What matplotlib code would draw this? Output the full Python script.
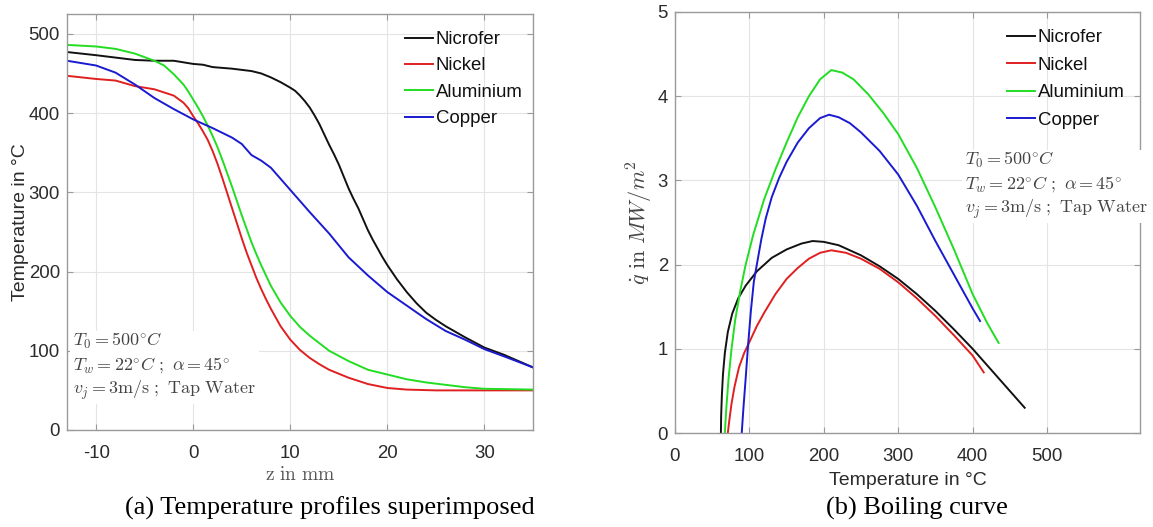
import matplotlib
matplotlib.use("Agg")
import matplotlib.pyplot as plt

plt.rcParams['mathtext.fontset'] = 'cm'

# ---------- data: (a) temperature profiles ----------
z_nicrofer = [-13, -10, -8, -6, -4, -2, 0, 1, 2, 4, 6, 7, 8, 9, 10, 10.5, 11, 11.5, 12, 12.5, 13, 13.5, 14, 14.5, 15, 15.5, 16, 16.5, 17, 17.5, 18, 18.5, 19, 19.5, 20, 21, 22, 23, 24, 25, 26, 28, 30, 32, 35]
T_nicrofer = [477, 473, 470, 467, 466, 466, 462, 461, 458, 456, 453, 450, 445, 439, 432, 428, 422, 415, 407, 397, 386, 373, 360, 348, 335, 320, 305, 292, 280, 266, 252, 240, 229, 218, 208, 190, 174, 160, 148, 139, 131, 117, 104, 95, 79]

z_nickel = [-13, -10, -8, -6, -4, -2, -1, -0.5, 0, 0.5, 1, 1.5, 2, 2.5, 3, 3.5, 4, 4.5, 5, 5.5, 6, 6.5, 7, 7.5, 8, 9, 10, 11, 12, 13, 14, 16, 18, 20, 22, 25, 35]
T_nickel = [447, 443, 441, 434, 430, 422, 413, 406, 396, 387, 377, 366, 352, 336, 318, 299, 280, 261, 242, 224, 208, 192, 178, 165, 153, 131, 114, 101, 91, 83, 76, 66, 58, 53, 51, 50, 50]

z_alu = [-13, -10, -8, -6, -4, -3, -2, -1, -0.5, 0, 0.5, 1, 1.5, 2, 2.5, 3, 3.5, 4, 4.5, 5, 5.5, 6, 6.5, 7, 7.5, 8, 9, 10, 11, 12, 14, 16, 18, 20, 22, 24, 26, 28, 30, 35]
T_alu = [486, 484, 481, 475, 466, 460, 449, 436, 427, 417, 407, 396, 384, 371, 357, 341, 324, 307, 289, 271, 254, 237, 222, 208, 195, 182, 161, 144, 130, 119, 100, 87, 76, 70, 64, 60, 57, 54, 52, 51]

z_copper = [-13, -10, -8, -6, -4, -2, 0, 2, 4, 5, 5.5, 6, 7, 8, 10, 12, 14, 16, 18, 20, 22, 24, 26, 28, 30, 32, 35]
T_copper = [466, 460, 451, 436, 419, 405, 392, 381, 369, 361, 354, 347, 340, 331, 303, 275, 248, 218, 195, 174, 157, 140, 125, 114, 102, 93, 79]

# ---------- data: (b) boiling curves ----------
Tb_nicrofer = [61.7, 62, 63, 64.5, 67, 71, 77, 85, 95, 110, 130, 150, 170, 185, 200, 220, 250, 275, 300, 325, 350, 375, 400, 425, 450, 470]
q_nicrofer = [0.0, 0.2, 0.45, 0.7, 0.95, 1.2, 1.42, 1.6, 1.75, 1.92, 2.08, 2.18, 2.25, 2.28, 2.27, 2.23, 2.11, 1.98, 1.83, 1.65, 1.45, 1.23, 1.0, 0.75, 0.5, 0.3]

Tb_nickel = [71, 73, 76, 80, 86, 93, 100, 110, 120, 135, 150, 165, 180, 195, 210, 230, 250, 275, 300, 325, 350, 375, 400, 415]
q_nickel = [0.0, 0.15, 0.35, 0.55, 0.78, 0.95, 1.08, 1.27, 1.43, 1.65, 1.83, 1.96, 2.07, 2.14, 2.17, 2.14, 2.07, 1.95, 1.79, 1.60, 1.39, 1.16, 0.92, 0.72]

Tb_alu = [67, 69, 72, 76, 81, 88, 95, 105, 120, 135, 150, 165, 180, 195, 210, 225, 240, 260, 280, 300, 325, 350, 375, 400, 420, 435]
q_alu = [0.0, 0.3, 0.65, 1.0, 1.35, 1.7, 2.0, 2.35, 2.78, 3.13, 3.45, 3.75, 4.0, 4.2, 4.31, 4.28, 4.2, 4.02, 3.8, 3.55, 3.15, 2.68, 2.18, 1.65, 1.3, 1.07]

Tb_copper = [89.7, 92, 95, 98, 102, 106, 111, 116, 122, 130, 140, 150, 165, 180, 195, 207, 220, 235, 250, 275, 300, 325, 350, 375, 400, 410]
q_copper = [0.0, 0.3, 0.65, 1.02, 1.45, 1.8, 2.05, 2.3, 2.55, 2.8, 3.03, 3.22, 3.45, 3.62, 3.74, 3.78, 3.75, 3.68, 3.57, 3.35, 3.07, 2.7, 2.28, 1.88, 1.48, 1.33]

labels = ["Nicrofer", "Nickel", "Aluminium", "Copper"]
colors = ["#111111", "#e02020", "#22dd22", "#1a1ad0"]

W, H = 1153, 527
fig = plt.figure(figsize=(W / 100, H / 100), dpi=100)

def fig_axes(x0, y0, x1, y1):
    return fig.add_axes([x0 / W, 1 - y1 / H, (x1 - x0) / W, (y1 - y0) / H])

ax1 = fig_axes(67, 14, 533, 430)
ax2 = fig_axes(675, 12, 1140, 433)

spine_c = "#9a9a9a"
tick_c = "#2b2b2b"
grid_c = "#e4e4e4"
sans = "Liberation Sans"

for ax in (ax1, ax2):
    for s in ax.spines.values():
        s.set_color(spine_c)
        s.set_linewidth(1.0)
    ax.tick_params(direction="in", length=4, color=spine_c, labelcolor=tick_c,
                   labelsize=13.4, top=True, right=True, pad=5)
    ax.tick_params(axis="x", pad=11)
    ax.grid(True, color=grid_c, linewidth=0.8)
    ax.set_axisbelow(True)

legend_kw = dict(loc="upper left", frameon=False, handlelength=1.5, handletextpad=0.15,
                 borderaxespad=0, borderpad=0, prop={"family": sans, "size": 13.4})

ann = (r"$T_0 = 500^{\circ}C$" + "\n" +
       r"$T_w = 22^{\circ}C\ ;\ \alpha = 45^{\circ}$" + "\n" +
       r"$v_j = 3\mathrm{m/s\ ;\ Tap\ Water}$")

# ----- (a) -----
ser_a = [(z_nicrofer, T_nicrofer), (z_nickel, T_nickel), (z_alu, T_alu), (z_copper, T_copper)]
for (x, y), lab, c in zip(ser_a, labels, colors):
    ax1.plot(x, y, color=c, lw=1.4, label=lab)
ax1.set_xlim(-13, 35)
ax1.set_ylim(0, 525)
ax1.set_xticks([-10, 0, 10, 20, 30])
ax1.set_yticks([0, 100, 200, 300, 400, 500])
ax1.set_xticklabels(["-10", "0", "10", "20", "30"], fontfamily=sans)
ax1.set_yticklabels(["0", "100", "200", "300", "400", "500"], fontfamily=sans)
ax1.set_ylabel("Temperature in °C", fontfamily=sans, fontsize=14, color=tick_c)
ax1.yaxis.set_label_coords((29 - 67) / 466, 0.5)
ax1.set_xlabel(r"$\mathrm{z\ in\ mm}$", fontsize=14, color="#555555", labelpad=2)
leg1 = ax1.legend(bbox_to_anchor=((405 - 67) / 466, 1 - (31 - 14) / 416), labelspacing=0.5, **legend_kw)
for t in leg1.get_texts():
    t.set_color("#111111")

ax1.text((73 - 67) / 466, 1 - (331 - 14) / 416, ann, transform=ax1.transAxes,
         ha="left", va="top", fontsize=13, color="#444444", linespacing=1.25,
         bbox=dict(facecolor="white", edgecolor="none", pad=2))

# ----- (b) -----
ser_b = [(Tb_nicrofer, q_nicrofer), (Tb_nickel, q_nickel), (Tb_alu, q_alu), (Tb_copper, q_copper)]
for (x, y), lab, c in zip(ser_b, labels, colors):
    ax2.plot(x, y, color=c, lw=1.4, label=lab)
ax2.set_xlim(0, 625)
ax2.set_ylim(0, 5)
ax2.set_xticks([0, 100, 200, 300, 400, 500])
ax2.set_yticks([0, 1, 2, 3, 4, 5])
ax2.set_xticklabels(["0", "100", "200", "300", "400", "500"], fontfamily=sans)
ax2.set_yticklabels(["0", "1", "2", "3", "4", "5"], fontfamily=sans)
ax2.set_xlabel("Temperature in °C", fontfamily=sans, fontsize=14, color=tick_c, labelpad=5)
ax2.set_ylabel(r"$\dot{q}\ \mathrm{in}\ MW/m^2$", fontsize=16, color="#444444")
ax2.yaxis.set_label_coords((655 - 675) / 465, 0.5)
leg2 = ax2.legend(bbox_to_anchor=((1007 - 675) / 465, 1 - (29 - 12) / 421), labelspacing=0.57, **legend_kw)
for t in leg2.get_texts():
    t.set_color("#111111")

ax2.text((965 - 675) / 465, 1 - (150 - 12) / 421, ann, transform=ax2.transAxes,
         ha="left", va="top", fontsize=13, color="#444444", linespacing=1.25,
         bbox=dict(facecolor="white", edgecolor="none", pad=2), clip_on=False, zorder=5)

# captions
fig.text(330 / W, 1 - 508 / H, "(a) Temperature profiles superimposed",
         fontfamily="Liberation Serif", fontsize=19, ha="center", va="center", color="black")
fig.text(917 / W, 1 - 508 / H, "(b) Boiling curve",
         fontfamily="Liberation Serif", fontsize=19, ha="center", va="center", color="black")

fig.savefig("out.png", dpi=100, facecolor="white")
